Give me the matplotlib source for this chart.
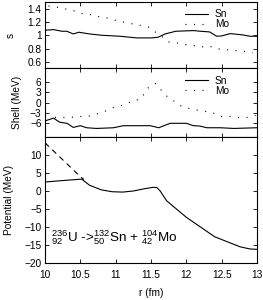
import matplotlib
matplotlib.use("Agg")
import matplotlib.pyplot as plt
from matplotlib.ticker import FuncFormatter

plt.rcParams['font.family'] = ['Liberation Sans', 'DejaVu Sans']
plt.rcParams['mathtext.fontset'] = 'custom'
plt.rcParams['mathtext.rm'] = 'Liberation Sans'
plt.rcParams['mathtext.it'] = 'Liberation Sans:italic'
plt.rcParams['mathtext.bf'] = 'Liberation Sans:bold'

# ---- data ----
s_sn_r = [10.0, 10.12, 10.24, 10.31, 10.4, 10.48, 10.63, 10.8, 11.06, 11.3, 11.5,
          11.6, 11.7, 11.85, 12.1, 12.2, 12.33, 12.43, 12.5, 12.62, 12.8, 12.9, 13.0]
s_sn = [1.075, 1.085, 1.06, 1.06, 1.02, 1.045, 1.02, 1.0, 0.985, 0.96, 0.96,
        0.97, 1.02, 1.06, 1.07, 1.06, 1.05, 0.985, 0.99, 1.025, 1.005, 0.985, 0.985]
s_mo_r = [10.05, 10.21, 10.35, 10.47, 10.54, 10.66, 10.78, 10.87, 11.01, 11.1, 11.22,
          11.34, 11.46, 11.58, 11.65, 11.74, 11.86, 11.98, 12.1, 12.22, 12.33, 12.43,
          12.57, 12.69, 12.8, 12.94]
s_mo = [1.44, 1.415, 1.38, 1.355, 1.32, 1.31, 1.275, 1.26, 1.22, 1.2, 1.175,
        1.15, 1.125, 1.035, 0.985, 0.9, 0.885, 0.86, 0.845, 0.825, 0.835, 0.795,
        0.785, 0.77, 0.76, 0.735]

sh_sn_r = [10.0, 10.12, 10.21, 10.31, 10.4, 10.5, 10.59, 10.73, 10.97, 11.11, 11.49,
           11.61, 11.77, 12.0, 12.1, 12.19, 12.29, 12.48, 12.67, 13.0]
sh_sn = [-5.3, -4.5, -5.7, -6.0, -7.2, -6.7, -7.3, -7.5, -7.3, -6.7, -6.7,
         -7.3, -6.0, -6.0, -6.7, -6.8, -7.3, -7.3, -7.5, -7.3]
sh_mo_r = [10.14, 10.35, 10.49, 10.61, 10.73, 10.87, 10.98, 11.13, 11.25, 11.35, 11.47,
           11.56, 11.63, 11.73, 11.86, 11.95, 12.07, 12.19, 12.29, 12.38, 12.48, 12.62,
           12.74, 12.86, 12.98]
sh_mo = [-4.3, -4.3, -4.0, -4.0, -3.3, -2.3, -1.3, -0.6, 0.7, 1.0, 4.6,
         5.6, 4.0, 1.8, 0.0, -1.3, -1.8, -2.3, -2.6, -3.0, -4.0, -4.0,
         -4.3, -4.3, -3.7]

pot_r = [10.0, 10.25, 10.52, 10.63, 10.8, 10.95, 11.1, 11.25, 11.4, 11.52, 11.58,
         11.63, 11.72, 11.86, 12.0, 12.2, 12.4, 12.58, 12.76, 12.9, 13.0]
pot = [2.5, 2.9, 3.3, 1.6, 0.3, -0.2, -0.3, 0.0, 0.6, 1.0, 1.0,
       0.0, -2.7, -5.0, -7.3, -10.0, -12.7, -14.1, -15.5, -16.1, -16.2]
coul_r = [10.0, 10.26, 10.5, 10.55]
coul = [13.4, 8.5, 4.0, 3.2]

x_ticks = [10, 10.5, 11, 11.5, 12, 12.5, 13]

fig = plt.figure(figsize=(2.63, 3.0), dpi=100)
L, W = 45 / 263, 212 / 263
ax1 = fig.add_axes([L, 1 - 68.5 / 300, W, 66.5 / 300])
ax2 = fig.add_axes([L, 1 - 137 / 300, W, 68.5 / 300])
ax3 = fig.add_axes([L, 1 - 263 / 300, W, 126 / 300])

fs = 7.3
gfmt = FuncFormatter(lambda v, p: ('%g' % v).replace('-', '\u2212'))
for ax in (ax1, ax2, ax3):
    ax.set_xlim(10, 13)
    ax.set_xticks(x_ticks)
    ax.tick_params(direction='in', top=True, right=True, length=3, width=0.6,
                   labelsize=fs, pad=2.5)
    ax.tick_params(axis='x', pad=5)
    for sp in ax.spines.values():
        sp.set_linewidth(0.8)
    ax.yaxis.set_major_formatter(gfmt)
    ax.xaxis.set_major_formatter(gfmt)

dots = (0, (0.8, 6))
ax1.plot(s_sn_r, s_sn, color='black', lw=0.8, label='Sn')
ax1.plot(s_mo_r, s_mo, color='black', lw=0.9, linestyle=dots, label='Mo')
ax1.set_ylim(0.5, 1.5)
ax1.set_yticks([0.6, 0.8, 1.0, 1.2, 1.4])
ax1.tick_params(labelbottom=False)
ax1.set_ylabel('s', fontsize=fs)
ax1.yaxis.set_label_coords(-0.14, 0.5)

ax2.plot(sh_sn_r, sh_sn, color='black', lw=0.8, label='Sn')
ax2.plot(sh_mo_r, sh_mo, color='black', lw=0.9, linestyle=dots, label='Mo')
ax2.set_ylim(-10, 10)
ax2.set_yticks([-6, -3, 0, 3, 6])
ax2.tick_params(labelbottom=False)
ax2.set_ylabel('Shell (MeV)', fontsize=fs)
ax2.yaxis.set_label_coords(-0.11, 0.5)

ax3.plot(pot_r, pot, color='black', lw=0.8)
ax3.plot(coul_r, coul, color='black', lw=0.8, dashes=(5, 4))
ax3.set_ylim(-20, 15)
ax3.set_yticks([-20, -15, -10, -5, 0, 5, 10])
ax3.set_ylabel('Potential (MeV)', fontsize=fs)
ax3.yaxis.set_label_coords(-0.145, 0.5)
ax3.set_xlabel('r (fm)', fontsize=fs, labelpad=6)
ax3.text(10.08, -12.9,
         r'${}^{236}_{92}\mathrm{U}$ ->${}^{132}_{50}\mathrm{Sn}$ + ${}^{104}_{42}\mathrm{Mo}$',
         fontsize=9.7, va='center', ha='left')

for ax in (ax1, ax2):
    ax.legend(loc='upper right', frameon=False, fontsize=fs, handlelength=2.2,
              handletextpad=0.7, labelspacing=0.0, borderaxespad=0.3,
              bbox_to_anchor=(0.9, 1.0))

fig.savefig('out.png', dpi=100)
